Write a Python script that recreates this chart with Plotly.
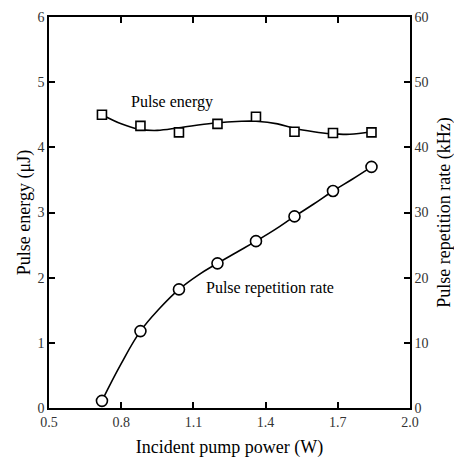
import plotly.graph_objects as go

# Data
power = [0.72, 0.88, 1.04, 1.20, 1.36, 1.52, 1.68, 1.84]
pulse_energy = [4.50, 4.33, 4.23, 4.36, 4.47, 4.24, 4.22, 4.23]
rep_rate = [1.1, 11.8, 18.2, 22.2, 25.6, 29.4, 33.3, 37.0]

# Smooth fit curves
fit_power = [0.72, 0.80, 0.87, 0.95, 1.04, 1.18, 1.30, 1.36, 1.45, 1.52, 1.60, 1.67, 1.75, 1.84]
fit_energy = [4.50, 4.36, 4.28, 4.26, 4.30, 4.37, 4.40, 4.40, 4.36, 4.29, 4.24, 4.21, 4.20, 4.24]

fit_rate_power = [0.72, 0.80, 0.88, 0.96, 1.04, 1.12, 1.20, 1.28, 1.36, 1.44, 1.52, 1.60, 1.68, 1.76, 1.84]
fit_rate = [1.1, 6.8, 11.8, 15.3, 18.2, 20.4, 22.2, 23.9, 25.6, 27.4, 29.4, 31.3, 33.3, 35.1, 37.0]

x_ticks = [0.5, 0.8, 1.1, 1.4, 1.7, 2.0]

FONT = "Liberation Serif, Times New Roman, DejaVu Serif, serif"

fig = go.Figure()

fig.add_trace(go.Scatter(x=fit_power, y=fit_energy, mode="lines",
                         line=dict(color="black", width=1.6, shape="spline", smoothing=1.0),
                         hoverinfo="skip", showlegend=False))
fig.add_trace(go.Scatter(x=power, y=pulse_energy, mode="markers",
                         marker=dict(symbol="square", size=9, color="white",
                                     line=dict(color="black", width=1.6)),
                         showlegend=False))
fig.add_trace(go.Scatter(x=fit_rate_power, y=fit_rate, mode="lines", yaxis="y2",
                         line=dict(color="black", width=1.6, shape="spline", smoothing=1.2),
                         hoverinfo="skip", showlegend=False))
fig.add_trace(go.Scatter(x=power, y=rep_rate, mode="markers", yaxis="y2",
                         marker=dict(symbol="circle", size=11, color="white",
                                     line=dict(color="black", width=1.6)),
                         showlegend=False))

axis_common = dict(showline=True, linecolor="black", linewidth=1.6,
                   ticks="inside", ticklen=6, tickwidth=1.6, tickcolor="black",
                   showgrid=False, zeroline=False, automargin=False,
                   tickfont=dict(family=FONT, size=14, color="#333"))

# page body adds an 8px offset; figure sized to compensate
fig.update_layout(
    width=454, height=454,
    margin=dict(l=41, r=52, t=9, b=54, autoexpand=False),
    paper_bgcolor="white", plot_bgcolor="white",
    font=dict(family=FONT, color="black"),
    xaxis=dict(range=[0.5, 2.0], tickvals=x_ticks, tickformat=".1f", mirror="ticks",
               title=dict(text="Incident pump power (W)", font=dict(family=FONT, size=18), standoff=12),
               **axis_common),
    yaxis=dict(range=[0, 6], dtick=1, mirror=True,
               title=dict(text="Pulse energy (μJ)", font=dict(family=FONT, size=18), standoff=2),
               **axis_common),
    yaxis2=dict(range=[0, 60], dtick=10, overlaying="y", side="right",
                title=dict(text="Pulse repetition rate (kHz)", font=dict(family=FONT, size=18), standoff=10),
                **axis_common),
    annotations=[
        dict(x=1.01, y=4.70, xref="x", yref="y", text="Pulse energy", showarrow=False,
             font=dict(family=FONT, size=16, color="black")),
        dict(x=1.42, y=1.84, xref="x", yref="y", text="Pulse repetition rate", showarrow=False,
             font=dict(family=FONT, size=16, color="black")),
    ],
)

fig.write_html("out.html")
